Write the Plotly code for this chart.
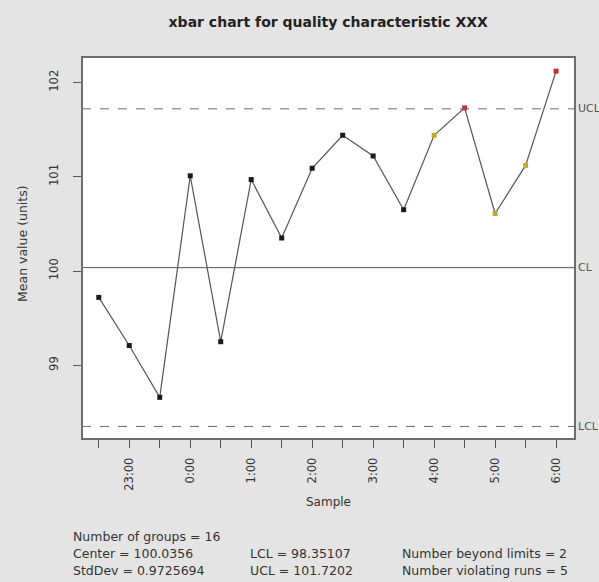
import plotly.graph_objects as go

# ---- data ----
sample_labels = ["22:30", "23:00", "23:30", "0:00", "0:30", "1:00", "1:30", "2:00",
                 "2:30", "3:00", "3:30", "4:00", "4:30", "5:00", "5:30", "6:00"]
sample_index = list(range(1, 17))
means = [99.72, 99.21, 98.66, 101.01, 99.25, 100.97, 100.35, 101.09,
         101.44, 101.22, 100.65, 101.44, 101.73, 100.61, 101.12, 102.12]
status = ["ok", "ok", "ok", "ok", "ok", "ok", "ok", "ok",
          "ok", "ok", "ok", "run", "out", "run", "run", "out"]
center = 100.0356
lcl = 98.35107
ucl = 101.7202
stddev = 0.9725694
n_groups = 16
n_beyond = 2
n_runs = 5
y_ticks = [99, 100, 101, 102]

color_map = {"ok": "#1a1a1a", "run": "#c8a82a", "out": "#c0303a"}

FONT = "DejaVu Sans, Arial, sans-serif"
TXT = "#333333"

fig = go.Figure()

# control lines
for val, dash, col in [(ucl, "dash", "#6a6a6a"), (lcl, "dash", "#6a6a6a"), (center, "solid", "#555555")]:
    fig.add_hline(y=val, line=dict(color=col, width=1, dash=dash))

fig.add_trace(go.Scatter(
    x=sample_index, y=means, mode="lines",
    line=dict(color="#555555", width=1.2), hoverinfo="skip", showlegend=False))
fig.add_trace(go.Scatter(
    x=sample_index, y=means, mode="markers",
    marker=dict(symbol="square", size=5, color=[color_map[s] for s in status], line=dict(width=0)),
    showlegend=False))

ticktext = [lab if i % 2 == 1 else "" for i, lab in enumerate(sample_labels)]

fig.update_xaxes(
    range=[0.45, 16.62], tickmode="array", tickvals=sample_index, ticktext=ticktext,
    tickangle=-90, ticks="outside", ticklen=8, tickcolor="#555", tickwidth=1,
    ticklabelstandoff=5,
    showgrid=False, zeroline=False, showline=False,
    tickfont=dict(family=FONT, size=11.5, color=TXT))
fig.update_yaxes(
    range=[98.218, 102.27], tickmode="array", tickvals=y_ticks,
    ticktext=[str(v) for v in y_ticks],
    tickangle=-90, ticks="outside", ticklen=8, tickcolor="#555", tickwidth=1,
    ticklabelstandoff=10,
    showgrid=False, zeroline=False, showline=False,
    tickfont=dict(family=FONT, size=11.5, color=TXT))

# plot border
fig.add_shape(type="rect", xref="paper", yref="paper", x0=0, y0=0, x1=1, y1=1,
              line=dict(color="#6e6e6e", width=2), layer="above")

ann = []
# right-side labels
for val, lab in [(ucl, "UCL"), (center, "CL"), (lcl, "LCL")]:
    ann.append(dict(x=1, xref="paper", y=val, yref="y", text=lab, showarrow=False,
                    xanchor="left", xshift=1, font=dict(family=FONT, size=11, color="#555")))
# axis titles
ann.append(dict(x=0.5, xref="paper", y=-0.165, yref="paper", text="Sample", showarrow=False,
                font=dict(family=FONT, size=12, color=TXT), yanchor="middle"))

L, R, T, B = 82, 24, 57, 143
W, H = 599, 582
pw, ph = W - L - R, H - T - B

ann.append(dict(x=(22 - L) / pw, xref="paper", y=1 - (244 - T) / ph, yref="paper",
                text="Mean value (units)",
                showarrow=False, textangle=-90, font=dict(family=FONT, size=12.5, color=TXT),
                xanchor="center", yanchor="middle"))
# stats block
stats = [
    (71, 536, f"Number of groups = {n_groups}"),
    (71, 553, f"Center = {center}"),
    (71, 570, f"StdDev = {stddev}"),
    (248, 553, f"LCL = {lcl}"),
    (248, 570, f"UCL = {ucl}"),
    (400, 553, f"Number beyond limits = {n_beyond}"),
    (400, 570, f"Number violating runs = {n_runs}"),
]
for px, py, txt in stats:
    ann.append(dict(x=(px - L) / pw, xref="paper", y=1 - (py - T) / ph, yref="paper",
                    text=txt, showarrow=False, xanchor="left", yanchor="middle",
                    font=dict(family=FONT, size=12.5, color=TXT)))

fig.update_layout(
    width=W, height=H,
    margin=dict(l=L, r=R, t=T, b=B),
    paper_bgcolor="#e4e4e4", plot_bgcolor="white",
    title=dict(text="<b>xbar chart for quality characteristic XXX</b>", x=0.548, xanchor="center",
               y=1 - 22 / H, yanchor="middle",
               font=dict(family=FONT, size=14, color="#222")),
    annotations=ann,
    showlegend=False,
)

fig.write_html(
    "out.html",
    config={"displayModeBar": False},
    post_script="document.body.style.margin='0';document.body.style.overflow='hidden';",
)
